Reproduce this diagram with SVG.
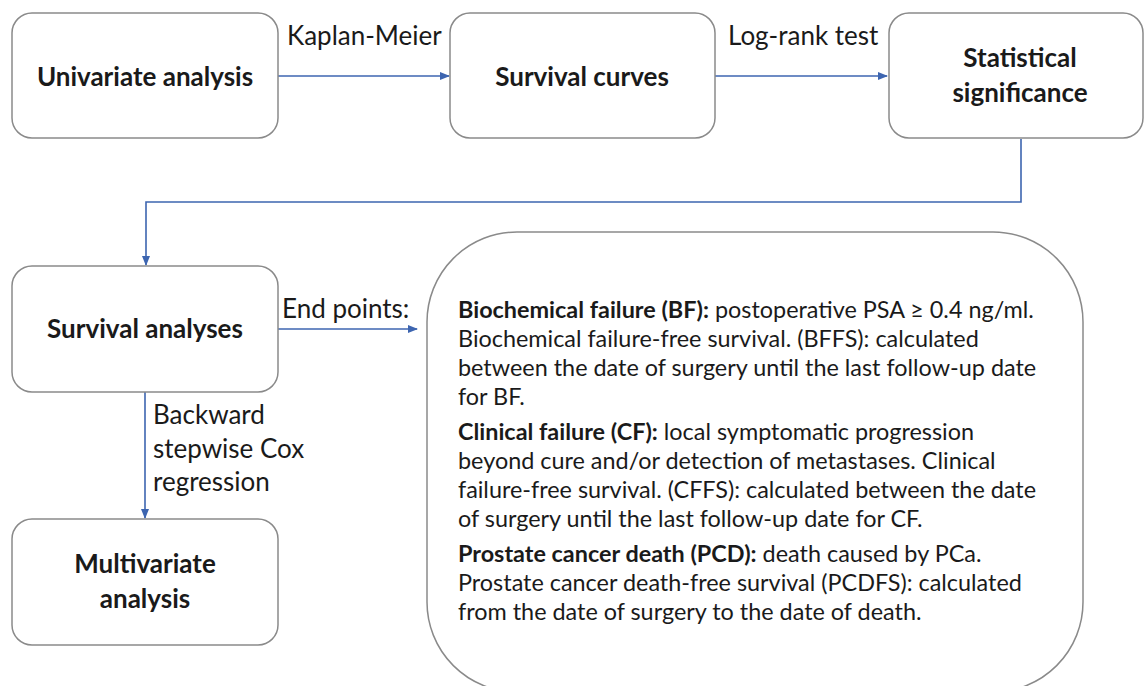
<svg xmlns="http://www.w3.org/2000/svg" width="1147" height="686" viewBox="0 0 1147 686">
<defs>
<style>
.box{fill:#fff;stroke:#8a8a8a;stroke-width:1.5}
.con{fill:none;stroke:#3d65b0;stroke-width:1.6}
.t{font-family:Lato,"Liberation Sans",sans-serif;fill:#1a1a1a}
.b{font-weight:bold;font-size:26px}
.lab{font-size:26px}
.body{font-size:23.4px}
.bodyb{font-weight:bold}
</style>
<marker id="ah" markerWidth="10" markerHeight="8" refX="9" refY="4" orient="auto" markerUnits="userSpaceOnUse">
<path d="M0,0 L10,4 L0,8 Z" fill="#3d65b0"/>
</marker>
</defs>
<rect width="1147" height="686" fill="#fff"/>
<g id="connectors">
<line class="con" x1="278" y1="76" x2="449" y2="76" marker-end="url(#ah)"/>
<line class="con" x1="715" y1="76" x2="887" y2="76" marker-end="url(#ah)"/>
<polyline class="con" points="1021,139 1021,202 146,202 146,265" marker-end="url(#ah)"/>
<line class="con" x1="278" y1="329" x2="417" y2="329" marker-end="url(#ah)"/>
<line class="con" x1="145" y1="392" x2="145" y2="518" marker-end="url(#ah)"/>
<text class="t lab" x="287" y="45">Kaplan-Meier</text>
<text class="t lab" x="728" y="45">Log-rank test</text>
<text class="t lab" x="282" y="318">End points:</text>
<text class="t lab" x="153" y="424">Backward</text>
<text class="t lab" x="153" y="458">stepwise Cox</text>
<text class="t lab" x="153" y="491">regression</text>
</g>
<g id="univariate">
<rect class="box" x="12" y="13" width="266" height="125" rx="20"/>
<text class="t b" x="145" y="86" text-anchor="middle">Univariate analysis</text>
</g>
<g id="survival-curves">
<rect class="box" x="450" y="13" width="265" height="125" rx="20"/>
<text class="t b" x="582" y="86" text-anchor="middle">Survival curves</text>
</g>
<g id="statistical-significance">
<rect class="box" x="889" y="13" width="254" height="125" rx="20"/>
<text class="t b" x="1020" y="67" text-anchor="middle">Statistical</text>
<text class="t b" x="1020" y="102" text-anchor="middle">significance</text>
</g>
<g id="survival-analyses">
<rect class="box" x="12" y="266" width="266" height="126" rx="20"/>
<text class="t b" x="145" y="338" text-anchor="middle">Survival analyses</text>
</g>
<g id="multivariate">
<rect class="box" x="12" y="519" width="266" height="126" rx="20"/>
<text class="t b" x="145" y="573" text-anchor="middle">Multivariate</text>
<text class="t b" x="145" y="608" text-anchor="middle">analysis</text>
</g>
<g id="end-points">
<rect class="box" x="427" y="232" width="656" height="460" rx="90"/>
<g class="t body">
<text x="458" y="318"><tspan class="bodyb">Biochemical failure (BF):</tspan> postoperative PSA ≥ 0.4 ng/ml.</text>
<text x="458" y="347">Biochemical failure-free survival. (BFFS): calculated</text>
<text x="458" y="376">between the date of surgery until the last follow-up date</text>
<text x="458" y="405">for BF.</text>
<text x="458" y="440"><tspan class="bodyb">Clinical failure (CF):</tspan> local symptomatic progression</text>
<text x="458" y="469">beyond cure and/or detection of metastases. Clinical</text>
<text x="458" y="498">failure-free survival. (CFFS): calculated between the date</text>
<text x="458" y="527">of surgery until the last follow-up date for CF.</text>
<text x="458" y="562"><tspan class="bodyb">Prostate cancer death (PCD):</tspan> death caused by PCa.</text>
<text x="458" y="591">Prostate cancer death-free survival (PCDFS): calculated</text>
<text x="458" y="620">from the date of surgery to the date of death.</text>
</g>
</g>
</svg>
